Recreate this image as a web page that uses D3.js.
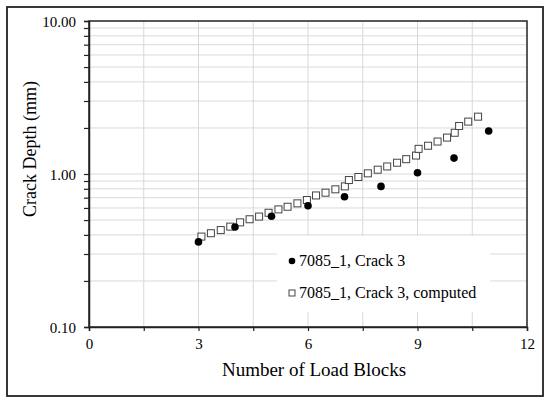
<!DOCTYPE html>
<html>
<head>
<meta charset="utf-8">
<script src="https://cdn.jsdelivr.net/npm/d3@7"></script>
<style>
  body { margin: 0; background: #fff; }
  svg { display: block; }
  text { font-family: "Liberation Serif", "Times New Roman", serif; fill: #000; }
</style>
</head>
<body>
<script>
// measured crack depth (mm) against load blocks
let measBlocks = [3, 4, 5, 6, 7, 8, 9, 10, 10.95]
let measDepth = [0.36, 0.45, 0.53, 0.62, 0.71, 0.83, 1.02, 1.27, 1.91]

// computed crack depth
let compBlocks = [3.08, 3.34, 3.61, 3.87, 4.14, 4.40, 4.66, 4.92, 5.19, 5.44, 5.71, 5.97,
    6.22, 6.48, 6.75, 7.01, 7.12, 7.38, 7.64, 7.91, 8.17, 8.44, 8.69, 8.96,
    9.03, 9.29, 9.55, 9.81, 10.02, 10.14, 10.39, 10.66]
let compDepth = [0.39, 0.41, 0.43, 0.453, 0.483, 0.506, 0.527, 0.558, 0.587, 0.611, 0.643, 0.676,
    0.724, 0.755, 0.794, 0.83, 0.913, 0.956, 1.01, 1.067, 1.12, 1.185, 1.25, 1.32,
    1.46, 1.53, 1.63, 1.73, 1.86, 2.06, 2.2, 2.37]

let xTicks = [0, 1.5, 3, 4.5, 6, 7.5, 9, 10.5, 12]
let xLabels = [0, 3, 6, 9, 12]
let yMajor = [0.1, 1, 10]
let yMinor = [0.2, 0.3, 0.4, 0.5, 0.6, 0.7, 0.8, 0.9, 2, 3, 4, 5, 6, 7, 8, 9]
let legendNames = ["7085_1, Crack 3", "7085_1, Crack 3, computed"]

let W = 550, H = 403
let pL = 89, pT = 21, pR = 527, pB = 327
let serif = '"Liberation Serif", "Times New Roman", serif'

let svg = d3.select('body')
    .append('svg')
    .attr('width', W)
    .attr('height', H)

// outer frame
svg.append('rect')
    .attr('x', 7).attr('y', 7)
    .attr('width', 536).attr('height', 389)
    .attr('fill', 'white')
    .attr('stroke', '#222')
    .attr('stroke-width', 1.8)

let x = d3.scaleLinear().domain([0, 12]).range([pL, pR])
let y = d3.scaleLog().domain([0.1, 10]).range([pB, pT])

// grid
let grid = svg.append('g').attr('stroke', '#d9d9d9').attr('stroke-width', 1)
grid.selectAll('line.gx')
    .data(xTicks.slice(1, -1))
    .enter().append('line')
    .attr('class', 'gx')
    .attr('x1', d => x(d)).attr('x2', d => x(d))
    .attr('y1', pT).attr('y2', pB)
grid.selectAll('line.gy')
    .data(yMinor.concat([1]))
    .enter().append('line')
    .attr('class', 'gy')
    .attr('y1', d => y(d)).attr('y2', d => y(d))
    .attr('x1', pL).attr('x2', pR)

// legend background hides the grid
svg.append('rect')
    .attr('x', 277).attr('y', 236)
    .attr('width', 213).attr('height', 76)
    .attr('fill', 'white')

// plot border
svg.append('rect')
    .attr('x', pL).attr('y', pT)
    .attr('width', pR - pL).attr('height', pB - pT)
    .attr('fill', 'none')
    .attr('stroke', '#222')
    .attr('stroke-width', 1.5)

// axes
let xAxis = d3.axisBottom(x)
    .tickValues(xTicks)
    .tickSize(4)
    .tickFormat(d => xLabels.includes(d) ? d : '')
let gx = svg.append('g')
    .attr('transform', `translate(0,${pB})`)
    .call(xAxis)
    .attr('font-family', serif)
    .attr('font-size', 15)
gx.select('.domain').attr('stroke', '#222').attr('stroke-width', 1.5)
gx.selectAll('.tick line').attr('stroke', '#222').attr('stroke-width', 1.2)
gx.selectAll('.tick text')
    .attr('dy', 0).attr('y', 22)
    .attr('fill', '#000')

let yAxis = d3.axisLeft(y)
    .tickValues(yMajor.concat(yMinor))
    .tickSize(5)
    .tickFormat(d => yMajor.includes(d) ? d3.format('.2f')(d) : '')
let gy = svg.append('g')
    .attr('transform', `translate(${pL},0)`)
    .call(yAxis)
    .attr('font-family', serif)
    .attr('font-size', 15)
gy.select('.domain').attr('stroke', '#222').attr('stroke-width', 1.5)
gy.selectAll('.tick line').attr('stroke', '#222').attr('stroke-width', 1.2)
gy.selectAll('.tick text')
    .attr('x', -13).attr('dy', '0.35em')
    .attr('fill', '#000')

// axis titles
svg.append('text')
    .attr('x', 314).attr('y', 376)
    .attr('text-anchor', 'middle')
    .style('font-size', '19px')
    .text('Number of Load Blocks')
svg.append('text')
    .attr('transform', 'translate(36,149) rotate(-90)')
    .attr('text-anchor', 'middle')
    .style('font-size', '18px')
    .text('Crack Depth (mm)')

// computed series
let comp = compBlocks.map((b, i) => ({ b: b, d: compDepth[i] }))
svg.selectAll('rect.comp')
    .data(comp)
    .enter().append('rect')
    .attr('class', 'comp')
    .attr('x', d => x(d.b) - 3.5)
    .attr('y', d => y(d.d) - 3.5)
    .attr('width', 7).attr('height', 7)
    .attr('fill', 'white')
    .attr('stroke', '#444')
    .attr('stroke-width', 1)

// measured series
let meas = measBlocks.map((b, i) => ({ b: b, d: measDepth[i] }))
svg.selectAll('circle.meas')
    .data(meas)
    .enter().append('circle')
    .attr('class', 'meas')
    .attr('cx', d => x(d.b))
    .attr('cy', d => y(d.d))
    .attr('r', 3.8)
    .attr('fill', 'black')

// legend
svg.append('circle')
    .attr('cx', 292).attr('cy', 261)
    .attr('r', 3.3)
    .attr('fill', 'black')
svg.append('rect')
    .attr('x', 289).attr('y', 290)
    .attr('width', 6).attr('height', 6)
    .attr('fill', 'white')
    .attr('stroke', '#444')
svg.selectAll('text.leg')
    .data(legendNames)
    .enter().append('text')
    .attr('class', 'leg')
    .attr('x', 299)
    .attr('y', (d, i) => 266 + i * 32)
    .style('font-size', '16px')
    .text(d => d)
</script>
</body>
</html>
